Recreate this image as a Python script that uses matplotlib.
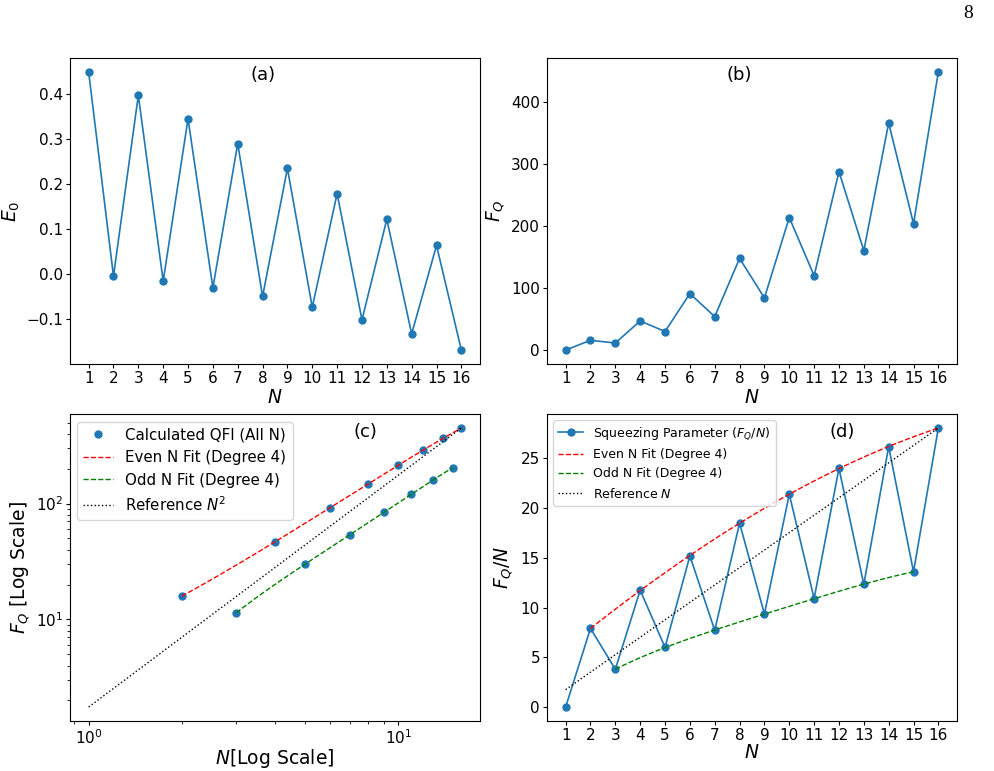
import numpy as np
import matplotlib
matplotlib.use('Agg')
import matplotlib.pyplot as plt

# values
N = np.arange(1, 17)
E0 = [0.449, -0.004, 0.397, -0.015, 0.345, -0.030, 0.290, -0.049,
      0.235, -0.073, 0.179, -0.101, 0.122, -0.132, 0.064, -0.168]
FQ = [0.0, 15.8, 11.4, 47.0, 30.0, 91.2, 54.0, 148.0,
      84.2, 214.0, 120.0, 288.0, 160.5, 366.5, 204.0, 449.0]

FQ = np.array(FQ)
FQ_N = FQ / N
even = N % 2 == 0
odd = (N % 2 == 1) & (N > 1)

fig = plt.figure(figsize=(9.95, 7.71), dpi=100)
W, H = 995, 771

def box(l, t, r, b):
    return [l / W, 1 - b / H, (r - l) / W, (b - t) / H]

tick_fs = 11
lab_fs = 13.5
tag_fs = 13

# (a) ground state energy
ax1 = fig.add_axes(box(70, 58, 480, 364))
ax1.plot(N, E0, 'o-', color='tab:blue', lw=1.2, ms=5)
ax1.set_xticks(N)
ax1.set_xlabel('$N$', fontsize=lab_fs)
ax1.set_ylabel('$E_0$', fontsize=lab_fs)
ax1.xaxis.set_label_coords(0.5, -0.078)
ax1.yaxis.set_label_coords(-0.117, 0.5)
ax1.text(0.47, 0.945, '(a)', transform=ax1.transAxes, ha='center', va='center', fontsize=tag_fs)

# (b) QFI
ax2 = fig.add_axes(box(547, 58, 957, 364))
ax2.plot(N, FQ, 'o-', color='tab:blue', lw=1.2, ms=5)
ax2.set_xticks(N)
ax2.set_xlabel('$N$', fontsize=lab_fs)
ax2.set_ylabel('$F_Q$', fontsize=lab_fs)
ax2.xaxis.set_label_coords(0.5, -0.078)
ax2.yaxis.set_label_coords(-0.098, 0.5)
ax2.text(0.47, 0.945, '(b)', transform=ax2.transAxes, ha='center', va='center', fontsize=tag_fs)

# (c) log-log
pe = np.polyfit(N[even], FQ[even], 4)
po = np.polyfit(N[odd], FQ[odd], 4)
xe = np.linspace(2, 16, 200)
xo = np.linspace(3, 15, 200)
xr = np.linspace(1, 16, 200)
ref2 = xr ** 2 * FQ[-1] / 16 ** 2

ax3 = fig.add_axes(box(70, 414, 480, 721))
ax3.plot(N[1:], FQ[1:], 'o', color='tab:blue', ms=5, label='Calculated QFI (All N)')
ax3.plot(xe, np.polyval(pe, xe), 'r--', lw=1, label='Even N Fit (Degree 4)')
ax3.plot(xo, np.polyval(po, xo), 'g--', lw=1, label='Odd N Fit (Degree 4)')
ax3.plot(xr, ref2, 'k:', lw=1, label='Reference $N^2$')
ax3.set_xscale('log')
ax3.set_yscale('log')
ax3.set_xlabel('$N$[Log Scale]', fontsize=lab_fs)
ax3.set_ylabel('$F_Q$ [Log Scale]', fontsize=lab_fs)
ax3.xaxis.set_label_coords(0.5, -0.085)
ax3.yaxis.set_label_coords(-0.093, 0.5)
ax3.legend(loc='upper left', fontsize=10.8)
ax3.text(0.72, 0.94, '(c)', transform=ax3.transAxes, ha='center', va='center', fontsize=tag_fs)

# (d) squeezing parameter
pe2 = np.polyfit(N[even], FQ_N[even], 4)
po2 = np.polyfit(N[odd], FQ_N[odd], 4)
ref1 = xr * FQ[-1] / 16 ** 2

ax4 = fig.add_axes(box(547, 414, 957, 721))
ax4.plot(N, FQ_N, 'o-', color='tab:blue', lw=1.2, ms=5, label='Squeezing Parameter ($F_Q/N$)')
ax4.plot(xe, np.polyval(pe2, xe), 'r--', lw=1, label='Even N Fit (Degree 4)')
ax4.plot(xo, np.polyval(po2, xo), 'g--', lw=1, label='Odd N Fit (Degree 4)')
ax4.plot(xr, ref1, 'k:', lw=1, label='Reference $N$')
ax4.set_xticks(N)
ax4.set_xlabel('$N$', fontsize=lab_fs)
ax4.set_ylabel('$F_Q/N$', fontsize=lab_fs)
ax4.xaxis.set_label_coords(0.5, -0.072)
ax4.yaxis.set_label_coords(-0.078, 0.5)
ax4.legend(loc='upper left', fontsize=9)
ax4.text(0.72, 0.94, '(d)', transform=ax4.transAxes, ha='center', va='center', fontsize=tag_fs)

for ax in (ax1, ax2, ax3, ax4):
    ax.tick_params(labelsize=tick_fs, length=3, pad=2)
    ax.tick_params(which='minor', length=2)

fig.text(968 / W, 1 - 14 / H, '8', family='Liberation Serif', fontsize=14, ha='center', va='center')

fig.savefig('out.png', dpi=100)
